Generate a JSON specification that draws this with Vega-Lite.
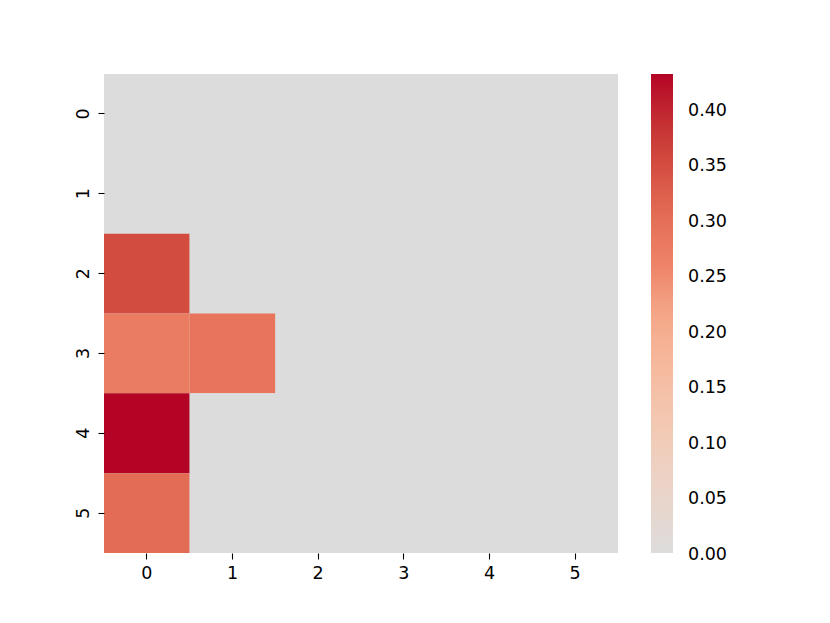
{
  "$schema": "https://vega.github.io/schema/vega-lite/v6.json",
  "autosize": "none",
  "width": 514,
  "height": 479,
  "padding": {"left": 104, "top": 74, "right": 212, "bottom": 70},
  "background": "white",
  "data": {"values": [
    {"row": 0, "col": 0, "v": 0}, {"row": 0, "col": 1, "v": 0}, {"row": 0, "col": 2, "v": 0}, {"row": 0, "col": 3, "v": 0}, {"row": 0, "col": 4, "v": 0}, {"row": 0, "col": 5, "v": 0},
    {"row": 1, "col": 0, "v": 0}, {"row": 1, "col": 1, "v": 0}, {"row": 1, "col": 2, "v": 0}, {"row": 1, "col": 3, "v": 0}, {"row": 1, "col": 4, "v": 0}, {"row": 1, "col": 5, "v": 0},
    {"row": 2, "col": 0, "v": 0.35}, {"row": 2, "col": 1, "v": 0}, {"row": 2, "col": 2, "v": 0}, {"row": 2, "col": 3, "v": 0}, {"row": 2, "col": 4, "v": 0}, {"row": 2, "col": 5, "v": 0},
    {"row": 3, "col": 0, "v": 0.275}, {"row": 3, "col": 1, "v": 0.29}, {"row": 3, "col": 2, "v": 0}, {"row": 3, "col": 3, "v": 0}, {"row": 3, "col": 4, "v": 0}, {"row": 3, "col": 5, "v": 0},
    {"row": 4, "col": 0, "v": 0.4315}, {"row": 4, "col": 1, "v": 0}, {"row": 4, "col": 2, "v": 0}, {"row": 4, "col": 3, "v": 0}, {"row": 4, "col": 4, "v": 0}, {"row": 4, "col": 5, "v": 0},
    {"row": 5, "col": 0, "v": 0.305}, {"row": 5, "col": 1, "v": 0}, {"row": 5, "col": 2, "v": 0}, {"row": 5, "col": 3, "v": 0}, {"row": 5, "col": 4, "v": 0}, {"row": 5, "col": 5, "v": 0}
  ]},
  "mark": {"type": "rect"},
  "encoding": {
    "x": {"field": "col", "type": "ordinal", "scale": {"paddingInner": 0, "paddingOuter": 0},
      "axis": {"title": null, "labelAngle": 0, "domain": false, "tickSize": 6, "tickWidth": 1.1, "labelFont": "DejaVu Sans", "labelFontSize": 17.5, "labelColor": "black", "tickColor": "black", "labelPadding": 5}},
    "y": {"field": "row", "type": "ordinal", "scale": {"paddingInner": 0, "paddingOuter": 0},
      "axis": {"title": null, "labelAngle": 270, "labelAlign": "center", "labelBaseline": "bottom", "domain": false, "tickSize": 6, "tickWidth": 1.1, "labelFont": "DejaVu Sans", "labelFontSize": 17.5, "labelColor": "black", "tickColor": "black", "labelPadding": 6}},
    "color": {"field": "v", "type": "quantitative",
      "scale": {"domain": [0, 0.4315], "range": ["#dddcdc", "#e8d6cc", "#efcfbf", "#f4c5ad", "#f6b89c", "#f5a688", "#ee8468", "#e46e56", "#d55042", "#c43032", "#b40426"], "interpolate": "rgb"},
      "legend": {"title": null, "orient": "none", "legendX": 547, "legendY": 0, "direction": "vertical", "gradientLength": 479, "gradientThickness": 22, "gradientStrokeWidth": 0,
        "values": [0, 0.05, 0.1, 0.15, 0.2, 0.25, 0.3, 0.35, 0.4], "format": ".2f", "labelFont": "DejaVu Sans", "labelFontSize": 17.5, "labelColor": "black", "labelOffset": 15, "labelOverlap": false, "labelBaseline": "middle",
        "encode": {"labels": {"update": {"dy": {"value": 2}, "baseline": {"value": "middle"}}}}}}
  },
  "config": {"view": {"stroke": null, "fill": "#dddcdc"}}
}
